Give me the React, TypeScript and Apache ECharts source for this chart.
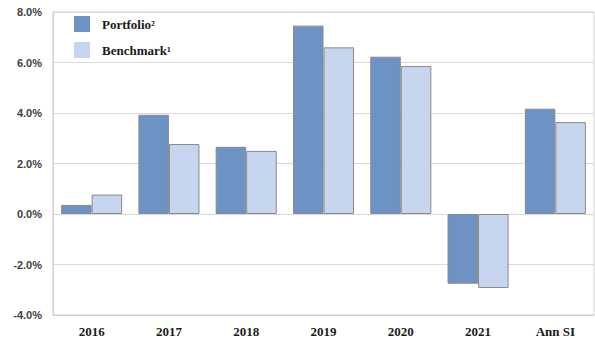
import React, { useEffect, useRef } from "react";
import * as echarts from "echarts";

const categories = ["2016", "2017", "2018", "2019", "2020", "2021", "Ann SI"];
const portfolio = [0.36, 3.93, 2.66, 7.46, 6.23, -2.76, 4.17];
const benchmark = [0.77, 2.77, 2.5, 6.6, 5.86, -2.93, 3.64];
const seriesNames = ["Portfolio\u00B2", "Benchmark\u00B9"];

export default function App() {
  const ref = useRef<HTMLDivElement>(null);
  useEffect(() => {
    const chart = echarts.init(ref.current!, null, { renderer: "svg" });
    chart.setOption({
      animation: false,
      backgroundColor: "#ffffff",
      grid: {
        left: 53,
        right: 1,
        top: 12,
        bottom: 23,
        show: true,
        borderColor: "#d0d0d0",
        borderWidth: 1,
      },
      legend: {
        orient: "vertical",
        left: 74,
        top: 16,
        padding: 0,
        itemWidth: 16,
        itemHeight: 16,
        itemGap: 10,
        icon: "rect",
        itemStyle: { borderWidth: 0 },
        textStyle: {
          fontFamily: "Liberation Serif",
          fontWeight: "bold",
          fontSize: 13,
          color: "#1a1a1a",
          padding: [0, 0, 0, 7],
        },
        data: seriesNames,
      },
      xAxis: {
        type: "category",
        data: categories,
        axisLine: { onZero: false, lineStyle: { color: "#d0d0d0" } },
        axisTick: { show: false },
        axisLabel: {
          fontFamily: "Liberation Serif",
          fontWeight: "bold",
          fontSize: 13,
          color: "#1a1a1a",
          margin: 10,
        },
      },
      yAxis: {
        type: "value",
        min: -4,
        max: 8,
        interval: 2,
        axisLine: { show: true, lineStyle: { color: "#d0d0d0" } },
        axisTick: { show: false },
        splitLine: { lineStyle: { color: "#d9d9d9" } },
        axisLabel: {
          formatter: (v: number) => `${v.toFixed(1)}%`,
          fontFamily: "Liberation Sans",
          fontWeight: "bold",
          fontSize: 11,
          color: "#404040",
          margin: 11,
        },
      },
      series: [
        {
          name: seriesNames[0],
          type: "bar",
          data: portfolio,
          barGap: "0%",
          barCategoryGap: "21%",
          itemStyle: { color: "#6d93c4", borderColor: "#8a8a8a", borderWidth: 1 },
        },
        {
          name: seriesNames[1],
          type: "bar",
          data: benchmark,
          barGap: "0%",
          barCategoryGap: "21%",
          itemStyle: { color: "#c6d6ee", borderColor: "#8a8a8a", borderWidth: 1 },
        },
      ],
    });
    return () => chart.dispose();
  }, []);
  return (
    <div
      ref={ref}
      style={{ position: "fixed", left: 0, top: 0, width: 595, height: 338 }}
    />
  );
}
